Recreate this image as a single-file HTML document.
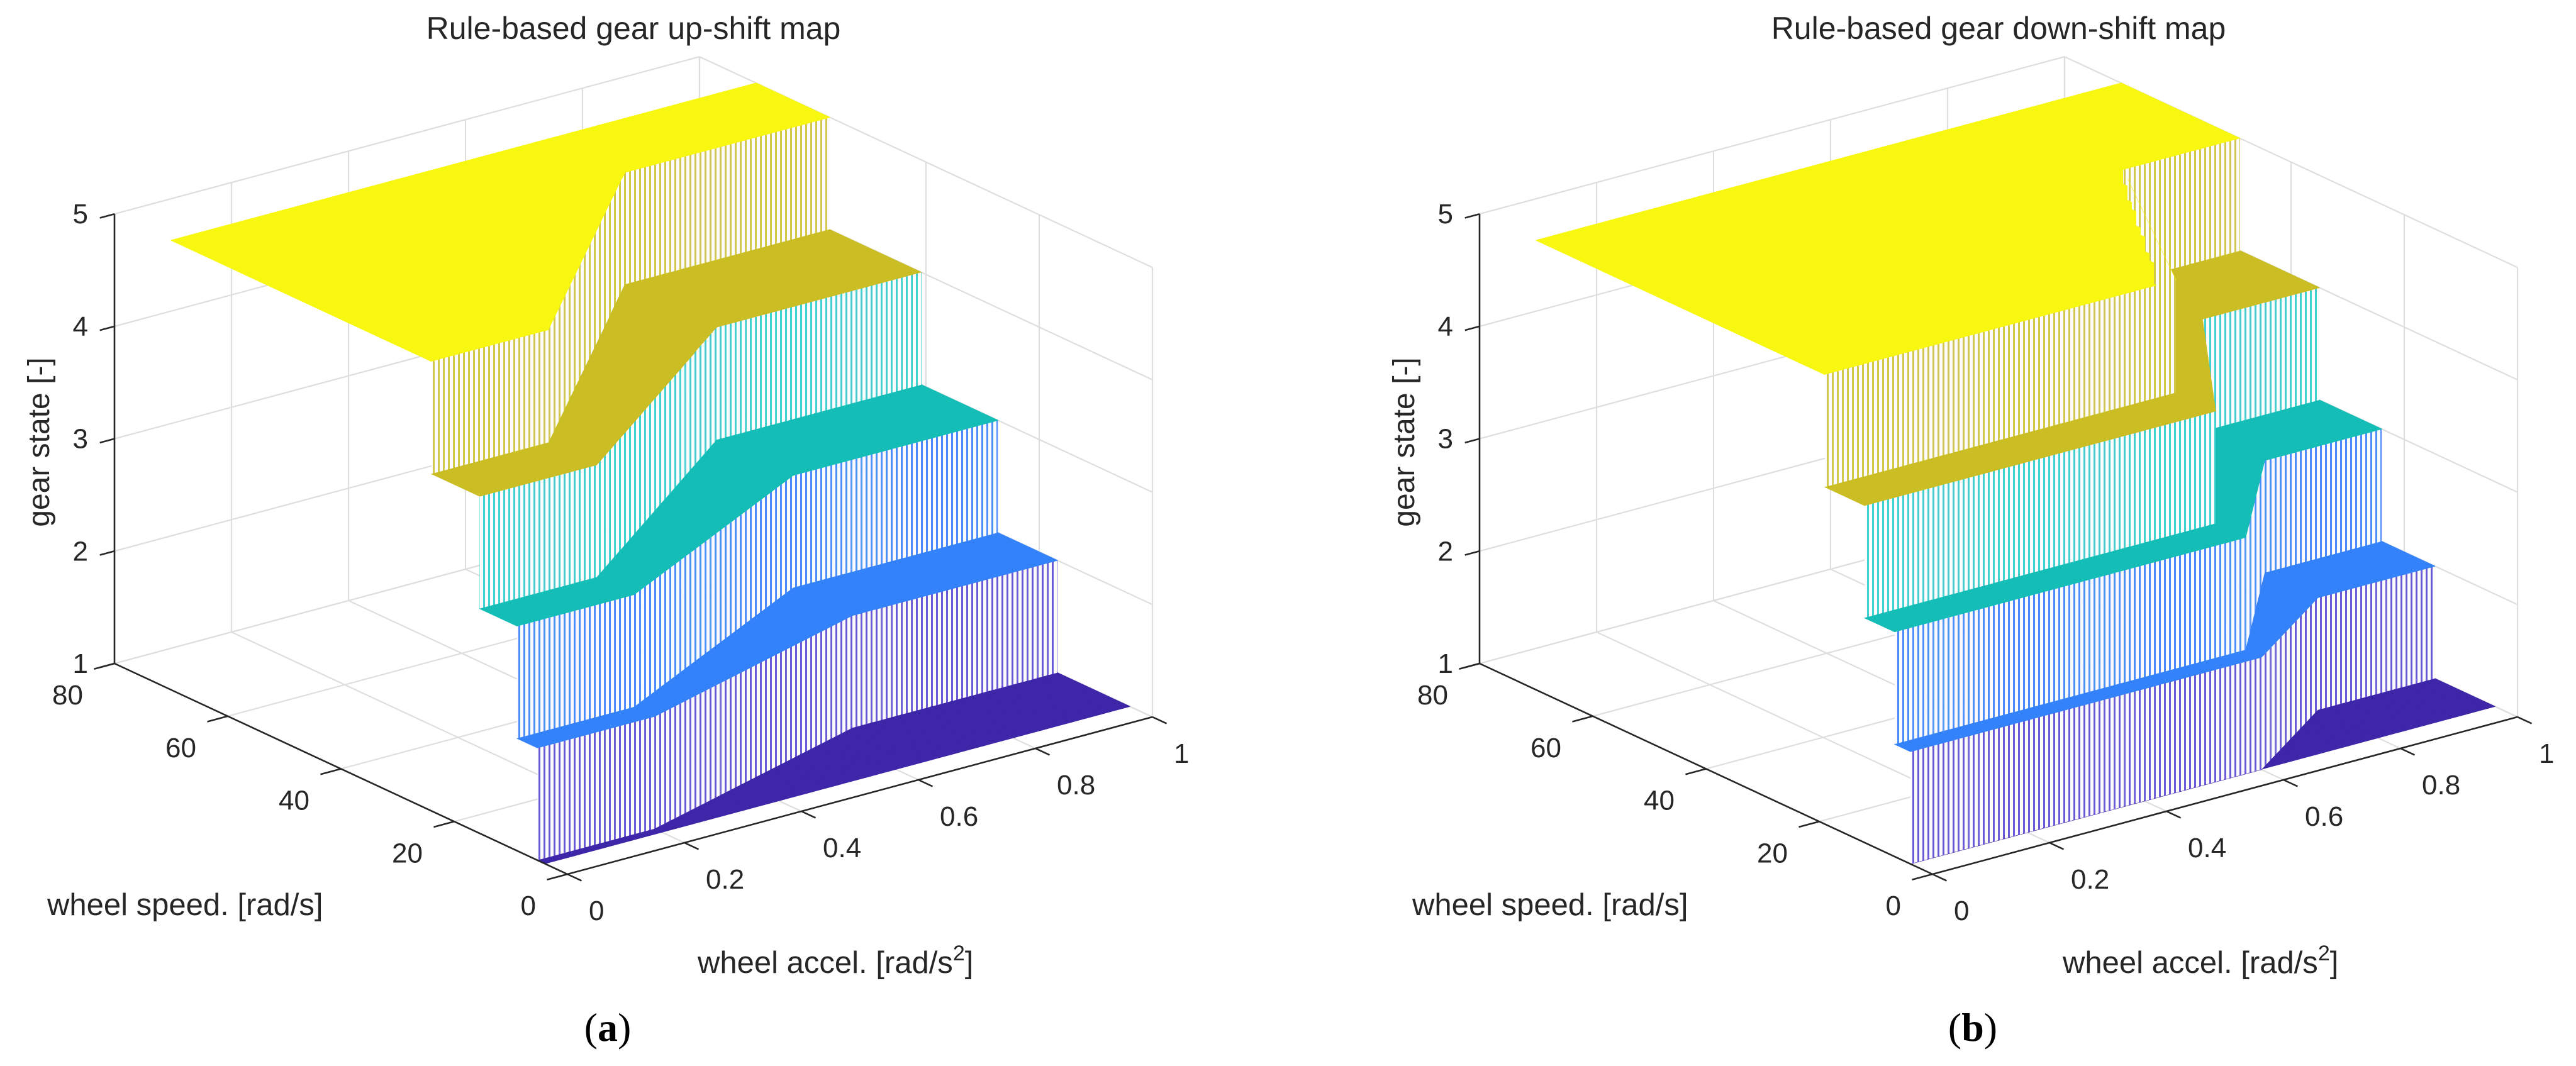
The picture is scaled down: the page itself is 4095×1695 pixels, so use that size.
<!DOCTYPE html>
<html><head><meta charset="utf-8"><style>
html,body{margin:0;padding:0;background:#fff;}
svg{display:block;font-family:"Liberation Sans",Arial,sans-serif;}
</style></head>
<body>
<svg id="fig" width="4095" height="1695" viewBox="0 0 4095 1695" xmlns="http://www.w3.org/2000/svg">
<defs id="defs"></defs>
<g id="panelA"></g>
<g id="panelB"></g>
</svg>
<script>
// ---- data ----
const accelTicks = [0, 0.2, 0.4, 0.6, 0.8, 1];
const accelTickLabels = ["0", "0.2", "0.4", "0.6", "0.8", "1"];
const speedTicks = [0, 20, 40, 60, 80];
const speedTickLabels = ["0", "20", "40", "60", "80"];
const gearTicks = [1, 2, 3, 4, 5];
const gearTickLabels = ["1", "2", "3", "4", "5"];
const speedRange = [4, 70];
// up-shift thresholds (speed at which gear g -> g+1), at accel breakpoints
const accelBreaksUp = [0, 0.2, 0.65, 1];
const upShift12 = [5.3, 5.3, 16.8, 16.8];
const upShift23 = [8.9, 8.9, 27.3, 27.3];
const upShift34 = [15.5, 15.5, 40.8, 40.8];
const upShift45 = [24, 24, 57, 57];
// down-shift thresholds
const accelBreaksDown = [0, 0.6, 0.8, 1];
const downShift12 = [3.9, 3.9, 14.6, 14.6];
const downShift23 = [6.7, 6.7, 24, 24];
const downShift34 = [12, 12, 35, 35];
const downShift45 = [19, 19, 49, 49];

const gearColors = ["#3e26a8", "#3482fa", "#14bdb6", "#cbbe24", "#f8f710"];
const riserLine = ["#6a5ad8", "#4a8cff", "#3fd0d0", "#d4c848"];
const NS = "http://www.w3.org/2000/svg";
function mk(tag, attrs, parent) {
  const e = document.createElementNS(NS, tag);
  for (const k in attrs) e.setAttribute(k, attrs[k]);
  parent.appendChild(e);
  return e;
}
const defs = document.getElementById('defs');
riserLine.forEach((c, i) => {
  const p = mk('pattern', {id: 'rp' + i, patternUnits: 'userSpaceOnUse', width: 8, height: 10}, defs);
  mk('rect', {x: 0, y: 0, width: 8, height: 10, fill: '#fbfbfb'}, p);
  mk('rect', {x: 0, y: 0, width: 3, height: 10, fill: c}, p);
});
function interp(breaks, vals, a) {
  for (let i = 0; i < breaks.length - 1; i++) {
    if (a <= breaks[i + 1] + 1e-9) {
      const t = (a - breaks[i]) / (breaks[i + 1] - breaks[i]);
      return vals[i] + t * (vals[i + 1] - vals[i]);
    }
  }
  return vals[vals.length - 1];
}

function drawPanel(g, dx, title, breaks, thr, letter) {
  const X = (a, s) => 902 + dx + 930 * a - 9 * s;
  const Y = (a, s, z) => 1390 - 250 * a - 4.1875 * s - 178.7 * (z - 1);
  const pt = (a, s, z) => X(a, s).toFixed(1) + ',' + Y(a, s, z).toFixed(1);
  const depth = (a, s, z) => 514800 * a + 664950 * (s / 80) - 491550 * ((z - 1) / 4);
  // grid
  const grid = mk('g', {stroke: '#dedede', 'stroke-width': 2.2, fill: 'none'}, g);
  
  
  accelTicks.forEach(a => {
    mk('line', {x1: X(a, 80), y1: Y(a, 80, 1), x2: X(a, 80), y2: Y(a, 80, 5)}, grid);
    mk('line', {x1: X(a, 0), y1: Y(a, 0, 1), x2: X(a, 80), y2: Y(a, 80, 1)}, grid);
  });
  speedTicks.forEach(s => {
    mk('line', {x1: X(1, s), y1: Y(1, s, 1), x2: X(1, s), y2: Y(1, s, 5)}, grid);
    mk('line', {x1: X(0, s), y1: Y(0, s, 1), x2: X(1, s), y2: Y(1, s, 1)}, grid);
  });
  gearTicks.forEach(z => {
    mk('line', {x1: X(0, 80), y1: Y(0, 80, z), x2: X(1, 80), y2: Y(1, 80, z)}, grid);
    mk('line', {x1: X(1, 80), y1: Y(1, 80, z), x2: X(1, 0), y2: Y(1, 0, z)}, grid);
  });
  // surface, split into accel slices and depth-sorted (painter's algorithm)
  const surf = mk('g', {}, g);
  
  
  const N = 60;
  const pieces = [];
  for (let k = 0; k < N; k++) {
    const a0 = k / N, a1 = (k + 1) / N, am = (a0 + a1) / 2;
    const b0 = [speedRange[0]].concat(thr.map(t => interp(breaks, t, a0))).concat([speedRange[1]]);
    const b1 = [speedRange[0]].concat(thr.map(t => interp(breaks, t, a1))).concat([speedRange[1]]);
    for (let gear = 1; gear <= 5; gear++) {
      const sm = (b0[gear - 1] + b0[gear] + b1[gear - 1] + b1[gear]) / 4;
      pieces.push({d: depth(am, sm, gear), kind: 'plane', gear: gear,
        pts: [pt(a0, b0[gear - 1], gear), pt(a1, b1[gear - 1], gear), pt(a1, b1[gear], gear), pt(a0, b0[gear], gear)].join(' ')});
      if (gear > 1) {
        const s0 = b0[gear - 1], s1 = b1[gear - 1];
        pieces.push({d: depth(am, (s0 + s1) / 2, gear - 0.5), kind: 'riser', gear: gear,
          pts: [pt(a0, s0, gear - 1), pt(a1, s1, gear - 1), pt(a1, s1, gear), pt(a0, s0, gear)].join(' ')});
      }
    }
  }
  pieces.sort((p, q) => q.d - p.d);
  pieces.forEach(p => {
    let el;
    if (p.kind === 'plane') {
      el = mk('polygon', {points: p.pts, fill: gearColors[p.gear - 1], stroke: gearColors[p.gear - 1], 'stroke-width': 1.2, 'stroke-linejoin': 'round'}, surf);
      
    } else {
      el = mk('polygon', {points: p.pts, fill: 'url(#rp' + (p.gear - 2) + ')'}, surf);
      
    }
    
  });
  // axes
  const ax = mk('g', {stroke: '#262626', 'stroke-width': 2.6, fill: 'none'}, g);
  
  
  mk('line', {x1: X(0, 80), y1: Y(0, 80, 1), x2: X(0, 80), y2: Y(0, 80, 5)}, ax);
  mk('line', {x1: X(0, 0), y1: Y(0, 0, 1), x2: X(0, 80), y2: Y(0, 80, 1)}, ax);
  mk('line', {x1: X(0, 0), y1: Y(0, 0, 1), x2: X(1, 0), y2: Y(1, 0, 1)}, ax);
  const lab = mk('g', {fill: '#262626', 'font-size': 44}, g);
  
  
  gearTicks.forEach((z, i) => {
    mk('line', {x1: X(0, 80), y1: Y(0, 80, z), x2: X(-0.025, 80), y2: Y(-0.025, 80, z)}, ax);
    const t = mk('text', {x: X(0, 80) - 42, y: Y(0, 80, z) + 15, 'text-anchor': 'end'}, lab);
    t.textContent = gearTickLabels[i];
  });
  speedTicks.forEach((s, i) => {
    mk('line', {x1: X(0, s), y1: Y(0, s, 1), x2: X(-0.035, s), y2: Y(-0.035, s, 1)}, ax);
    const t = mk('text', {x: X(0, s) - 50, y: Y(0, s, 1) + 65, 'text-anchor': 'end'}, lab);
    t.textContent = speedTickLabels[i];
  });
  accelTicks.forEach((a, i) => {
    mk('line', {x1: X(a, 0), y1: Y(a, 0, 1), x2: X(a, -2.5), y2: Y(a, -2.5, 1)}, ax);
    const t = mk('text', {x: X(a, 0) + 34, y: Y(a, 0, 1) + 73, 'text-anchor': 'start'}, lab);
    t.textContent = accelTickLabels[i];
  });
  // titles
  const tt = mk('text', {x: 1007 + dx, y: 62, 'text-anchor': 'middle', 'font-size': 50, fill: '#262626'}, g);
  tt.textContent = title;
  
  
  const zt = mk('text', {x: 0, y: 0, 'text-anchor': 'middle', 'font-size': 48, fill: '#262626', transform: 'translate(' + (78 + dx) + ',703) rotate(-90)'}, g);
  zt.textContent = 'gear state [-]';
  
  
  const st = mk('text', {x: 75 + dx, y: 1455, 'font-size': 49, fill: '#262626'}, g);
  st.textContent = 'wheel speed. [rad/s]';
  
  
  const at = mk('text', {x: 1109 + dx, y: 1547, 'font-size': 49, fill: '#262626'}, g);
  at.textContent = 'wheel accel. [rad/s';
  const sup = mk('tspan', {dy: -20, 'font-size': 34}, at);
  sup.textContent = '2';
  const cl = mk('tspan', {dy: 20}, at);
  cl.textContent = ']';
  
  
  const lt = mk('text', {x: 966 + dx, y: 1655, 'text-anchor': 'middle', 'font-size': 64, fill: '#000', 'font-family': '"Liberation Serif", serif'}, g);
  lt.textContent = '(';
  const b = mk('tspan', {'font-weight': 'bold'}, lt);
  b.textContent = letter;
  const c2 = mk('tspan', {}, lt);
  c2.textContent = ')';
  
  
}
drawPanel(document.getElementById('panelA'), 0, 'Rule-based gear up-shift map', accelBreaksUp,
  [upShift12, upShift23, upShift34, upShift45], 'a');
drawPanel(document.getElementById('panelB'), 2170, 'Rule-based gear down-shift map', accelBreaksDown,
  [downShift12, downShift23, downShift34, downShift45], 'b');
</script>
</body></html>
